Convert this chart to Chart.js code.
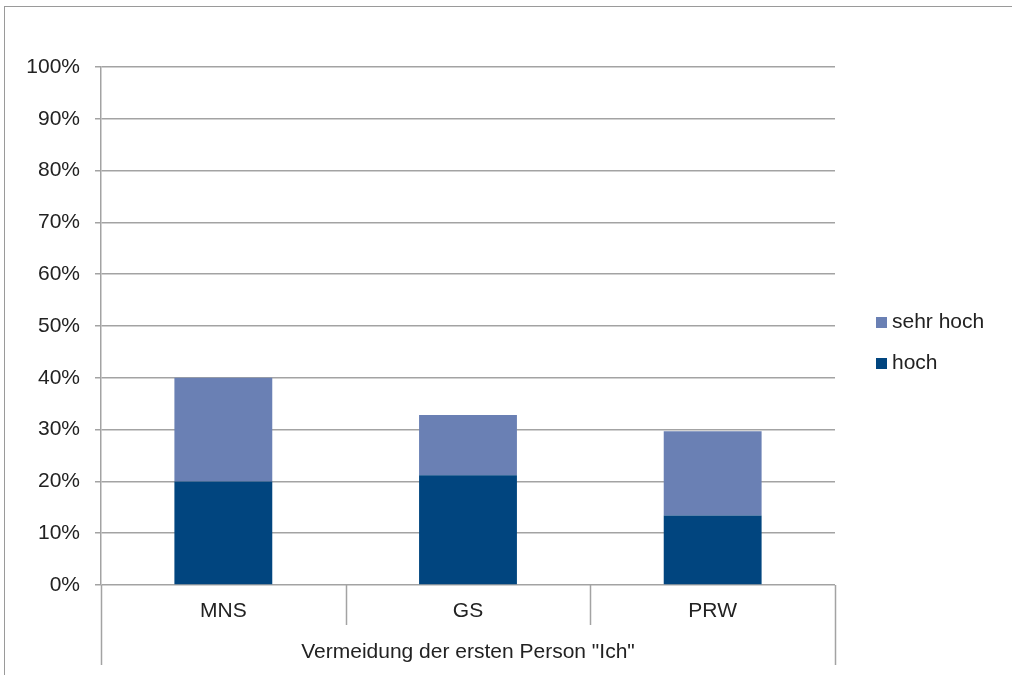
<!DOCTYPE html>
<html>
<head>
<meta charset="utf-8">
<script src="https://cdn.jsdelivr.net/npm/chart.js@4.4.1/dist/chart.umd.min.js"></script>
<style>
  html, body { margin: 0; padding: 0; background: #fff; overflow: hidden; }
  #frame { position: absolute; left: 4px; top: 6px; width: 1100px; height: 720px; border: 1px solid #9a9a9a; box-sizing: border-box; }
  #wrap { position: absolute; left: 0; top: 0; width: 1012px; height: 675px; }
</style>
</head>
<body>
<div id="frame"></div>
<div id="wrap"><canvas id="c" width="1012" height="675"></canvas></div>
<script>
const categories = ['MNS', 'GS', 'PRW'];
const groupLabel = 'Vermeidung der ersten Person "Ich"';
const hoch = [20, 21.2, 13.4];
const sehrHoch = [20, 11.6, 16.3];
const yTicks = [0, 10, 20, 30, 40, 50, 60, 70, 80, 90, 100];

const FONT = '"Liberation Sans", Arial, sans-serif';
const FS = 21;
const GRID = '#a3a3a3';
const TEXT = '#222222';

const extrasPlugin = {
  id: 'extras',
  afterDraw(chart) {
    const ctx = chart.ctx;
    const xs = chart.scales.x;
    const ca = chart.chartArea;
    const n = categories.length;
    ctx.save();
    ctx.strokeStyle = GRID;
    ctx.lineWidth = 1.5;
    for (let i = 0; i <= n; i++) {
      const xb = Math.round(xs.getPixelForValue(i - 0.5)) + 0.5;
      const len = (i === 0 || i === n) ? 80 : 40;
      ctx.beginPath();
      ctx.moveTo(xb, ca.bottom);
      ctx.lineTo(xb, ca.bottom + len);
      ctx.stroke();
    }
    // group label
    ctx.fillStyle = TEXT;
    ctx.font = FS + 'px ' + FONT;
    ctx.textAlign = 'center';
    ctx.textBaseline = 'middle';
    const left = xs.getPixelForValue(-0.5), right = xs.getPixelForValue(n - 0.5);
    ctx.fillText(groupLabel, (left + right) / 2, ca.bottom + 67);
    // legend (reverse order: top dataset first)
    const ds = chart.data.datasets.slice().reverse();
    const lx = ca.right + 41;
    const ly0 = 322;
    ds.forEach((d, k) => {
      const y = ly0 + k * 41;
      ctx.fillStyle = d.backgroundColor;
      ctx.fillRect(lx, y - 5, 11, 11);
      ctx.fillStyle = TEXT;
      ctx.textAlign = 'left';
      ctx.fillText(d.label, lx + 16, y);
    });
    ctx.restore();
  }
};

new Chart(document.getElementById('c'), {
  type: 'bar',
  data: {
    labels: categories,
    datasets: [
      { label: 'hoch', data: hoch, backgroundColor: '#01457f', borderWidth: 0 },
      { label: 'sehr hoch', data: sehrHoch, backgroundColor: '#6a80b4', borderWidth: 0 }
    ]
  },
  options: {
    responsive: false,
    animation: false,
    devicePixelRatio: 1,
    layout: { padding: { left: 0, right: 177, top: 67, bottom: 0 } },
    categoryPercentage: 1,
    barPercentage: 0.4,
    plugins: { legend: { display: false }, tooltip: { enabled: false } },
    scales: {
      x: {
        stacked: true,
        offset: true,
        grid: { display: false, drawTicks: false },
        border: { display: false },
        ticks: { color: TEXT, font: { family: FONT, size: FS }, padding: 14 },
        afterFit(s) { s.height = 90; }
      },
      y: {
        stacked: true,
        min: 0, max: 100,
        afterBuildTicks(s) { s.ticks = yTicks.map(v => ({ value: v })); },
        grid: { color: GRID, lineWidth: 1.5, tickLength: 6 },
        border: { display: true, color: GRID, width: 1.5 },
        ticks: { color: TEXT, font: { family: FONT, size: FS }, padding: 15, callback: v => v + '%' },
        afterFit(s) { s.width = 101; }
      }
    }
  },
  plugins: [extrasPlugin]
});
</script>
</body>
</html>
